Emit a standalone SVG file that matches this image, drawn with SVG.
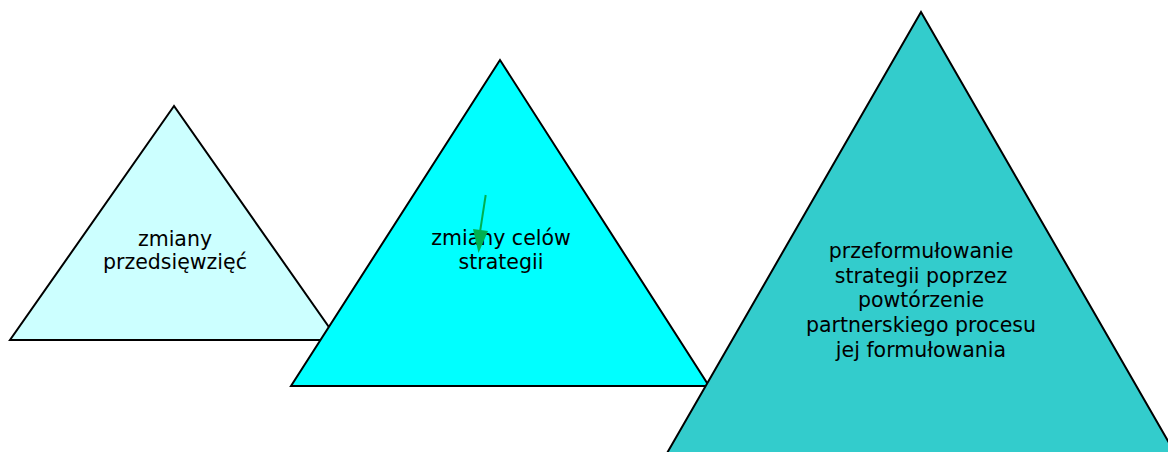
<svg xmlns="http://www.w3.org/2000/svg" width="1168" height="452" viewBox="0 0 1168 452">
<style>
.tri{stroke:#000;stroke-width:2;stroke-linejoin:miter}
.lbl{font-family:"DejaVu Sans",Verdana,sans-serif;font-size:20.5px;fill:#000;text-anchor:middle}
</style>
<rect width="1168" height="452" fill="#fff"/>
<g id="node1">
<polygon class="tri" points="174,106 10,340 338,340" fill="#ccffff"/>
<text class="lbl" x="175" y="246">zmiany</text>
<text class="lbl" x="175" y="269">przedsięwzięć</text>
</g>
<g id="node2">
<polygon class="tri" points="500,60 291,386 709,386" fill="#00ffff"/>
<text class="lbl" x="501" y="245">zmiany celów</text>
<text class="lbl" x="501" y="269">strategii</text>
</g>
<g id="node3">
<polygon class="tri" points="921,12 655,474 1187,474" fill="#33cccc"/>
<text class="lbl" x="921" y="258">przeformułowanie</text>
<text class="lbl" x="921" y="283">strategii poprzez</text>
<text class="lbl" x="921" y="307">powtórzenie</text>
<text class="lbl" x="921" y="332">partnerskiego procesu</text>
<text class="lbl" x="921" y="357">jej formułowania</text>
</g>
<g id="connectors">
<line x1="485.7" y1="195" x2="480" y2="232" stroke="#00b050" stroke-width="2"/>
<polygon points="473,229 488,231 478.5,253" fill="#00b050"/>
</g>
</svg>
